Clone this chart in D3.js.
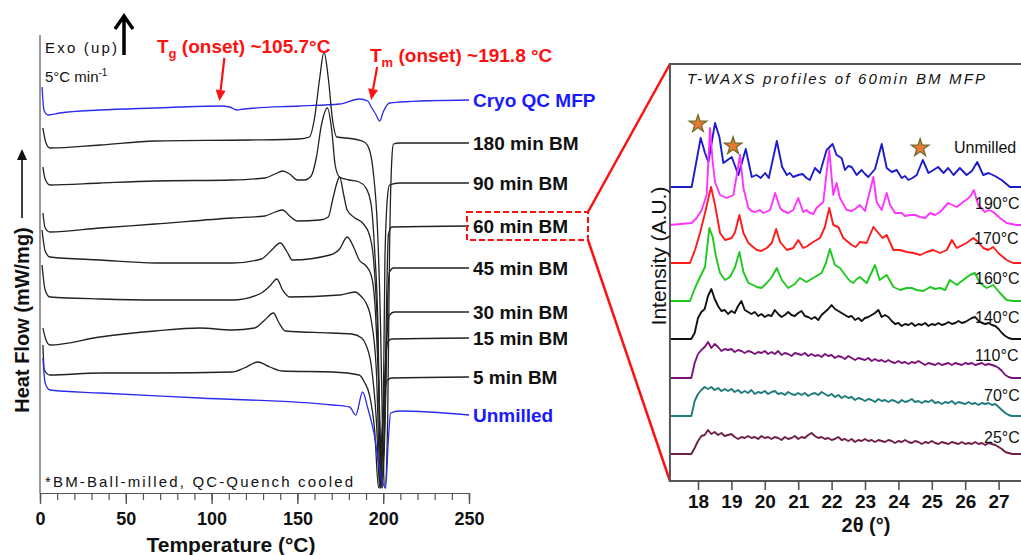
<!DOCTYPE html>
<html><head><meta charset="utf-8">
<script src="https://cdn.jsdelivr.net/npm/d3@7"></script>
<style>
body{margin:0;background:#fff}
svg{display:block;font-family:"Liberation Sans",Arial,sans-serif}
</style>
</head><body>
<svg id="c" width="1021" height="555"></svg>
<script>
// ---------------- DSC data (Temperature °C, heat flow, offset a.u.) ----------------
const dscCryo = [[1.2,40.6],[2.3,38.3],[4.7,37.8],[11.6,38.0],[35,38.3],[67,38.5],[105,38.7],[110.6,38.6],[114.7,38.3],[119,38.4],[151,38.7],[174.6,38.9],[186,39.4],[191,39.2],[193,38.6],[195.6,37.9],[198,37.2],[200,38.1],[203.7,39.0],[209.5,39.1],[250,39.3]];
const dsc180 = [[1.7,36.5],[3.5,35.0],[5.8,34.5],[35,34.8],[67,35.2],[122,35.3],[151,35.4],[157,35.6],[160,37.5],[163,41.5],[165.5,44.1],[168,41.5],[170.5,37.3],[173,35.6],[183,35.4],[189,35.1],[192,34.3],[194.4,31.8],[196.7,26.3],[198.5,16.3],[199.6,6.3],[201,0.5],[202.6,7.3],[203.7,24.3],[205,33.3],[206,34.9],[209.5,35.0],[250,35.0]];
const dsc90 = [[1.7,32.6],[3,31.4],[5.8,30.8],[35,31.0],[67,31.2],[112,31.3],[131,31.5],[137,31.9],[141.4,32.2],[145.5,31.9],[150,31.3],[154,31.3],[158,31.7],[161,33.5],[164,36.8],[167.5,38.5],[170,36.3],[172,32.8],[174.5,31.6],[180,31.3],[186,31.1],[190,30.5],[193,28.8],[195,24.3],[197,16.3],[198.5,0.5],[200,7.3],[201,23.3],[202.6,29.8],[203.7,30.8],[209.5,31.0],[250,31.0]];
const dsc60 = [[1.7,28.0],[3,26.5],[5.8,26.1],[35,26.5],[67,26.9],[112,27.5],[131,27.7],[137,28.1],[141.4,28.3],[145.5,27.7],[150,27.2],[163,27.3],[168,27.6],[170.5,29.3],[173,31.0],[174.6,31.6],[177,29.8],[179,28.3],[183.5,27.5],[188,27.0],[192,25.8],[194.4,23.3],[196.7,16.3],[199,0.5],[201,9.3],[202,19.3],[203,25.8],[205,26.6],[250,26.7]];
const dsc45 = [[1.2,26.3],[3,24.2],[5.8,23.6],[35,23.3],[67,23.0],[112,23.0],[129,23.4],[135,24.3],[140,25.0],[144,24.1],[147,23.3],[169,23.8],[174.6,24.4],[179,25.6],[183,24.5],[186,23.3],[190,22.7],[193,21.8],[195,19.3],[197.3,11.3],[199.6,0.5],[201.4,9.3],[202.6,19.3],[203.7,22.1],[206,22.5],[250,22.5]];
const dsc30 = [[1.2,22.8],[3,20.3],[5.8,19.6],[35,19.4],[67,19.3],[112,19.3],[128,19.9],[134,20.7],[138,21.4],[141.4,20.3],[145.5,19.6],[174.6,19.8],[183.5,20.1],[187.5,19.6],[190,19.0],[193,17.3],[196,12.3],[198.5,0.5],[201,7.3],[202,15.3],[203.7,17.8],[206.5,18.1],[250,18.1]];
const dsc15 = [[1.7,16.5],[3.5,15.3],[5.8,14.8],[35,15.6],[67,16.2],[93,16.5],[112,16.3],[125,16.5],[131,17.3],[136,18.0],[139,17.1],[143,16.2],[169,16.0],[181.6,15.9],[187.5,15.5],[190,14.8],[193,12.8],[196,7.3],[198,0.5],[199.6,6.3],[201.4,13.3],[202.6,15.1],[205,15.4],[250,15.5]];
const dsc5 = [[1.7,14.8],[2.5,12.3],[5.8,11.8],[35,12.0],[67,12.0],[112,12.1],[119,12.5],[127,13.1],[134,12.6],[141.4,12.2],[170.5,12.1],[186,11.8],[189,11.1],[192,9.8],[195,6.3],[197.3,0.5],[199,5.3],[201,10.3],[202.6,11.3],[205,11.5],[250,11.6]];
const dscUnmilled = [[1.7,13.5],[3,11.0],[5.8,10.3],[35,10.0],[93,9.5],[170.5,8.8],[180.4,8.6],[184,7.8],[188,10.1],[191,8.5],[194.6,6.0],[198,2.3],[201.4,0.5],[203,5.3],[204.3,8.0],[209.5,8.2],[250,7.8]];
const dscLabels = ["Cryo QC MFP","180 min BM","90 min BM","60 min BM","45 min BM","30 min BM","15 min BM","5 min BM","Unmilled"];
const dscTicksMajor = [0,50,100,150,200,250];
const tgOnset = 105.7, tmOnset = 191.8;

// ---------------- T-WAXS data (2θ °, intensity a.u. above own baseline) ----------------
const waxsLabels = ["Unmilled","190°C","170°C","160°C","140°C","110°C","70°C","25°C"];
const waxsOffsets = [29.4,25.6,21.8,18.0,14.2,10.3,6.5,2.7];
const waxsUnmilled = [[17.15,0],[17.81,0],[17.96,2.7],[18.08,4.9],[18.21,3.4],[18.31,2.5],[18.51,6.4],[18.64,5.0],[18.76,2.4],[19.01,3.0],[19.21,1.2],[19.43,3.8],[19.61,1.0],[19.75,1.2],[19.88,0.9],[20.01,1.4],[20.12,0.9],[20.36,4.6],[20.52,2.0],[20.66,1.2],[20.75,1.4],[20.85,1.0],[21.0,1.2],[21.13,1.3],[21.25,0.9],[21.35,0.7],[21.50,1.9],[21.65,1.4],[21.85,3.7],[22.03,4.3],[22.15,3.2],[22.3,2.9],[22.40,1.7],[22.50,2.1],[22.60,2.0],[22.75,1.2],[22.9,1.7],[23.0,1.3],[23.10,1.0],[23.3,1.8],[23.50,4.3],[23.65,1.9],[23.8,1.5],[23.95,1.7],[24.10,0.9],[24.2,1.1],[24.3,0.7],[24.42,0.9],[24.55,1.2],[24.73,2.7],[24.90,1.4],[25.05,1.7],[25.19,2.0],[25.35,1.4],[25.49,1.9],[25.65,1.2],[25.84,1.9],[26.04,1.2],[26.2,1.6],[26.36,2.5],[26.54,1.2],[26.7,1.4],[26.89,1.1],[27.09,0.7],[27.34,0],[28.3,0]];
const waxs190 = [[17.15,0],[17.81,0.2],[17.96,0.7],[18.11,1.5],[18.26,3.0],[18.36,9.7],[18.44,6.3],[18.51,4.3],[18.66,3.0],[18.86,2.7],[19.06,3.0],[19.26,7.0],[19.36,3.7],[19.51,1.7],[19.6,1.4],[19.71,1.3],[19.85,1.5],[19.96,1.2],[20.16,1.5],[20.31,3.2],[20.46,1.7],[20.55,1.4],[20.70,1.2],[20.85,1.5],[21.00,2.7],[21.15,1.3],[21.25,1.5],[21.35,1.2],[21.45,1.1],[21.55,1.7],[21.75,2.3],[21.93,7.5],[22.05,3.0],[22.15,4.2],[22.25,2.7],[22.45,1.5],[22.6,1.4],[22.7,1.6],[22.85,2.0],[23.0,1.4],[23.25,4.8],[23.35,2.3],[23.50,1.5],[23.65,3.2],[23.75,2.0],[23.90,1.2],[24.1,1.2],[24.2,0.9],[24.35,1.0],[24.5,1.0],[24.65,0.8],[24.8,0.7],[24.95,1.2],[25.1,1.0],[25.25,1.3],[25.49,2.2],[25.75,1.8],[25.94,2.3],[26.14,2.8],[26.26,3.5],[26.39,2.0],[26.59,1.3],[26.7,1.5],[26.84,1.3],[27.04,0.7],[27.24,0.2],[27.54,0],[28.3,0]];
const waxs170 = [[17.15,0],[17.76,0],[17.91,1.3],[18.06,3.0],[18.21,5.0],[18.39,7.6],[18.51,5.8],[18.66,3.0],[18.81,2.3],[19.01,2.5],[19.11,3.1],[19.24,4.8],[19.36,3.0],[19.51,2.0],[19.65,1.6],[19.76,1.3],[19.9,1.2],[20.06,1.5],[20.21,2.0],[20.34,3.4],[20.46,2.1],[20.66,1.3],[20.85,1.5],[21.00,2.3],[21.15,1.5],[21.28,1.7],[21.40,2.0],[21.65,2.5],[21.80,3.6],[21.93,5.5],[22.05,3.8],[22.20,3.6],[22.35,2.5],[22.60,1.8],[22.72,1.6],[22.85,2.1],[23.05,2.0],[23.25,3.6],[23.40,3.0],[23.53,2.5],[23.65,2.8],[23.85,1.3],[24.05,1.3],[24.25,1.1],[24.45,1.0],[24.65,0.8],[24.85,1.1],[25.04,1.3],[25.25,1.0],[25.45,1.3],[25.60,2.3],[25.75,1.5],[26.04,2.0],[26.24,2.5],[26.39,2.1],[26.54,1.5],[26.69,1.3],[26.84,1.6],[26.99,1.0],[27.24,0.3],[27.44,0],[28.3,0]];
const waxs160 = [[17.15,0],[17.76,0],[17.91,1.3],[18.06,2.4],[18.21,3.4],[18.34,7.3],[18.44,6.4],[18.54,4.4],[18.66,2.8],[18.81,2.1],[18.96,2.4],[19.11,3.4],[19.24,4.9],[19.36,2.9],[19.51,1.8],[19.65,1.6],[19.76,1.4],[19.9,1.3],[20.06,1.8],[20.21,2.4],[20.36,3.3],[20.51,2.1],[20.70,1.3],[20.90,1.7],[21.05,2.3],[21.25,1.9],[21.45,2.3],[21.70,2.8],[21.83,3.8],[21.95,5.2],[22.10,3.6],[22.25,3.3],[22.45,2.4],[22.55,2.0],[22.65,1.8],[22.75,2.2],[22.85,2.4],[23.05,1.8],[23.30,3.6],[23.44,2.1],[23.65,2.6],[23.85,1.4],[24.05,1.1],[24.25,1.3],[24.4,1.3],[24.55,1.1],[24.75,1.0],[24.95,1.4],[25.1,1.2],[25.25,1.3],[25.4,1.1],[25.54,2.1],[25.75,1.6],[25.94,2.1],[26.14,2.6],[26.29,2.8],[26.44,1.8],[26.64,1.3],[26.84,1.6],[27.04,0.8],[27.24,0.1],[27.44,0],[28.3,0]];
// noisy / amorphous profiles sampled every 0.1° from 17.8° to 27.4°
const waxsGridStart = 17.8, waxsGridStep = 0.1;
const waxs140 = [0.0,0.6,2.1,2.7,3.0,4.3,5.0,4.0,3.3,2.8,2.9,2.5,2.8,2.6,3.3,3.8,2.9,2.7,2.5,2.7,2.3,2.5,2.2,2.4,2.3,2.9,2.5,2.2,2.4,2.7,2.4,2.3,2.6,2.8,2.3,2.2,2.0,2.2,1.9,2.4,2.7,3.0,3.4,3.0,2.8,2.6,2.4,2.2,2.3,1.9,2.1,1.8,2.1,2.2,2.4,2.6,2.9,2.2,2.4,2.2,1.8,1.5,1.6,1.3,1.5,1.4,1.6,1.3,1.5,1.4,1.6,1.3,1.5,1.4,1.6,1.4,1.5,1.7,1.5,1.6,1.8,1.6,1.7,1.9,2.1,2.2,1.8,1.6,1.5,1.6,1.4,1.3,1.0,0.6,0.3,0.1,0.0];
const waxs110 = [0.0,1.5,2.4,2.8,3.1,3.6,3.0,3.4,3.1,2.7,2.9,2.8,2.9,2.6,2.8,2.7,2.5,2.7,2.6,2.4,2.6,2.5,2.7,2.4,2.6,2.4,2.7,2.3,2.5,2.4,2.2,2.5,2.4,2.3,2.5,2.2,2.4,2.2,2.3,2.1,2.4,2.2,2.3,2.0,2.2,2.1,1.9,2.2,2.0,1.8,2.0,1.9,1.8,2.0,1.7,1.9,1.7,1.8,1.6,1.8,1.6,1.5,1.7,1.5,1.6,1.4,1.6,1.5,1.7,1.5,1.3,1.5,1.4,1.3,1.5,1.3,1.4,1.5,1.3,1.5,1.4,1.3,1.5,1.4,1.5,1.3,1.4,1.5,1.3,1.4,1.3,1.2,1.0,0.7,0.3,0.1,0.0];
const waxs70 = [0.0,1.5,2.2,2.6,2.9,2.7,2.9,2.6,2.8,2.5,2.7,2.5,2.7,2.4,2.6,2.3,2.5,2.3,2.6,2.2,2.4,2.3,2.5,2.2,2.4,2.5,2.2,2.3,2.1,2.4,2.2,2.1,2.3,2.1,2.3,2.0,2.2,2.3,2.1,2.4,2.2,2.0,2.2,1.9,2.1,1.8,2.0,1.8,1.9,1.6,1.8,1.7,1.5,1.7,1.6,1.4,1.7,1.5,1.6,1.4,1.6,1.5,1.3,1.6,1.4,1.5,1.7,1.4,1.5,1.3,1.5,1.4,1.6,1.3,1.4,1.2,1.4,1.3,1.5,1.2,1.4,1.3,1.2,1.4,1.2,1.3,1.1,1.3,1.2,1.3,1.1,1.2,0.9,0.6,0.3,0.1,0.0];
const waxs25 = [0.0,0.6,1.3,1.8,1.9,2.4,2.0,2.2,1.9,2.1,1.8,1.9,2.0,1.7,1.5,1.7,1.6,1.8,1.6,1.7,1.5,1.8,1.6,1.7,1.5,1.7,1.6,1.4,1.7,1.5,1.6,1.8,1.5,1.7,1.6,1.9,2.1,1.8,1.6,1.7,1.5,1.6,1.4,1.5,1.7,1.4,1.5,1.3,1.5,1.2,1.4,1.3,1.5,1.3,1.4,1.2,1.4,1.3,1.2,1.4,1.3,1.1,1.3,1.2,1.4,1.2,1.1,1.3,1.2,1.0,1.2,1.1,1.3,1.1,1.0,1.2,1.1,1.0,1.2,1.1,1.0,1.2,1.0,1.1,1.0,1.2,1.0,1.1,0.9,1.1,1.0,0.9,0.7,0.5,0.2,0.1,0.0];
const waxsTicks = [18,19,20,21,22,23,24,25,26,27];
const waxsStars = [[18.0,6.3],[19.05,4.1],[24.65,3.9]]; // 2θ, intensity above Unmilled baseline

// ---------------- drawing ----------------
const svg = d3.select("#c");
const FONT = '"Liberation Sans", Arial, sans-serif';
const BLUE_LINE = "#2b2bf0", BLUE_TXT = "#1a1aff", RED = "#ff1010";

// ===== left: DSC =====
const xL = d3.scaleLinear().domain([0,250]).range([40,469]);
const yL = d3.scaleLinear().domain([0,45.8]).range([493,35]);
const dscSeries = [dscCryo,dsc180,dsc90,dsc60,dsc45,dsc30,dsc15,dsc5,dscUnmilled];
const dscColors = [BLUE_LINE,"#222","#222","#222","#222","#222","#222","#222",BLUE_LINE];
const lineL = d3.line().x(d=>xL(d[0])).y(d=>yL(d[1])).curve(d3.curveMonotoneX);

svg.append("line").attr("x1",xL(0)).attr("x2",xL(0)).attr("y1",35).attr("y2",yL(0))
  .attr("stroke","#555").attr("stroke-width",1.2);
const gxMinor = svg.append("g").attr("transform",`translate(0,${yL(0)})`)
  .call(d3.axisBottom(xL).tickValues(d3.range(0,251,10)).tickSize(7).tickFormat(""));
gxMinor.select(".domain").attr("stroke","#555").attr("stroke-width",1.2);
gxMinor.selectAll("line").attr("stroke","#555").attr("stroke-width",1.2);
const gxL = svg.append("g").attr("transform",`translate(0,${yL(0)})`)
  .call(d3.axisBottom(xL).tickValues(dscTicksMajor).tickSize(11).tickPadding(8).tickFormat(d3.format("d")));
gxL.select(".domain").remove();
gxL.selectAll("line").attr("stroke","#555").attr("stroke-width",1.4);
gxL.attr("font-family",FONT).attr("font-size",18).selectAll("text").attr("font-weight","bold").attr("fill","#111");

svg.append("g").selectAll("path").data(dscSeries).join("path")
  .attr("d",lineL).attr("fill","none")
  .attr("stroke",(d,i)=>dscColors[i]).attr("stroke-width",1.3);

const labY = dscSeries.map(s=>yL(s[s.length-1][1]));
svg.append("g").selectAll("text").data(dscLabels).join("text")
  .attr("x",473).attr("y",(d,i)=>labY[i]).attr("dy","0.36em")
  .attr("font-size",19).attr("font-weight","bold")
  .attr("fill",(d,i)=> (i===0||i===8)? BLUE_TXT : "#111")
  .text(d=>d);

const by = labY[3];
svg.append("rect").attr("x",467).attr("y",by-14).attr("width",121).attr("height",28)
  .attr("fill","none").attr("stroke",RED).attr("stroke-width",2).attr("stroke-dasharray","6,3");

svg.append("text").attr("x",45).attr("y",53).attr("font-size",15).attr("fill","#111")
  .attr("textLength",72).attr("lengthAdjust","spacing").text("Exo (up)");
svg.append("path").attr("d","M124,55 L124,16 M115,29 L124,16 L133,29")
  .attr("fill","none").attr("stroke","#000").attr("stroke-width",3.5);
const rate = svg.append("text").attr("x",45).attr("y",82).attr("font-size",15).attr("fill","#111");
rate.append("tspan").text("5°C min");
rate.append("tspan").attr("font-size",10).attr("dy",-6).text("-1");

function annot(x,y,main,sub,rest){
  const t = svg.append("text").attr("x",x).attr("y",y).attr("fill",RED)
    .attr("font-weight","bold").attr("font-size",19);
  t.append("tspan").text(main);
  t.append("tspan").attr("font-size",13).attr("dy",5).text(sub);
  t.append("tspan").attr("dy",-5).text(rest);
}
annot(157,53,"T","g"," (onset) ~105.7°C");
annot(370,62,"T","m"," (onset) ~191.8 °C");
function arrow(x1,y1,x2,y2){
  const a = Math.atan2(y2-y1,x2-x1), L=11, w=5;
  const bx = x2 - L*Math.cos(a), by2 = y2 - L*Math.sin(a);
  svg.append("line").attr("x1",x1).attr("y1",y1).attr("x2",bx).attr("y2",by2)
    .attr("stroke",RED).attr("stroke-width",2.2);
  svg.append("path").attr("d",`M${x2},${y2} L${bx+w*Math.sin(a)},${by2-w*Math.cos(a)} L${bx-w*Math.sin(a)},${by2+w*Math.cos(a)} Z`)
    .attr("fill",RED);
}
arrow(xL(tgOnset)+3,58,xL(tgOnset)-2,101);
arrow(xL(tmOnset)+8,67,xL(tmOnset)+2,100);

svg.append("text").attr("x",231).attr("y",552).attr("text-anchor","middle")
  .attr("font-size",21).attr("font-weight","bold").attr("fill","#111").text("Temperature (°C)");
svg.append("text").attr("transform","translate(22,320) rotate(-90)").attr("text-anchor","middle")
  .attr("dy","0.36em").attr("font-size",20).attr("font-weight","bold").attr("fill","#111").text("Heat Flow (mW/mg)");
svg.append("line").attr("x1",22).attr("x2",22).attr("y1",218).attr("y2",158).attr("stroke","#111").attr("stroke-width",1.6);
svg.append("path").attr("d","M22,149 L17,160 L27,160 Z").attr("fill","#111");
svg.append("text").attr("x",45).attr("y",487).attr("font-size",15).attr("fill","#111")
  .attr("textLength",308).attr("lengthAdjust","spacing").text("*BM-Ball-milled, QC-Quench cooled");

// ===== right: T-WAXS =====
const xR = d3.scaleLinear().domain([18,27]).range([698,998.6]);
const yR = d3.scaleLinear().domain([0,41.7]).range([481,64]);
const grid = arr => arr.map((v,i)=>[waxsGridStart+i*waxsGridStep, v]);
const pad = arr => [[17.15,0]].concat(arr).concat([[28.3,0]]);
const waxsSeries = [waxsUnmilled,waxs190,waxs170,waxs160,pad(grid(waxs140)),pad(grid(waxs110)),pad(grid(waxs70)),pad(grid(waxs25))];
const waxsColors = ["#1c1ccc","#ff33ff","#ff1a1a","#1fc81f","#111111","#7a137a","#1f7b7b","#6e1f45"];

svg.append("line").attr("x1",588).attr("y1",by-14).attr("x2",xR(17.16)).attr("y2",yR(41.7))
  .attr("stroke",RED).attr("stroke-width",2.5);
svg.append("line").attr("x1",588).attr("y1",by+14).attr("x2",xR(17.16)).attr("y2",yR(0))
  .attr("stroke",RED).attr("stroke-width",2.5);

svg.append("g").selectAll("path").data(waxsSeries).join("path")
  .attr("fill","none").attr("stroke",(d,i)=>waxsColors[i]).attr("stroke-width",1.9)
  .attr("stroke-linejoin","round")
  .attr("d",(s,i)=> d3.line().x(d=>xR(d[0])).y(d=>yR(d[1]+waxsOffsets[i]))(s));

svg.append("path").attr("d",`M1030,${yR(41.7)} L${xR(17.16)},${yR(41.7)} L${xR(17.16)},${yR(0)} L1030,${yR(0)}`)
  .attr("fill","none").attr("stroke","#555").attr("stroke-width",2);
const gxR = svg.append("g").attr("transform",`translate(0,${yR(0)})`)
  .call(d3.axisBottom(xR).tickValues(waxsTicks).tickSize(9).tickPadding(5).tickFormat(d3.format("d")));
gxR.select(".domain").remove();
gxR.selectAll("line").attr("stroke","#555").attr("stroke-width",1.6);
gxR.attr("font-family",FONT).attr("font-size",19).selectAll("text").attr("font-weight","bold").attr("fill","#111");

const waxsLabX = [954,975,974,975,975,975,984,984];
const waxsLabDy = [4.0,2.2,2.5,2.3,2.2,2.3,2.1,1.7];
svg.append("g").selectAll("text").data(waxsLabels).join("text")
  .attr("x",(d,i)=>waxsLabX[i]).attr("y",(d,i)=>yR(waxsOffsets[i]+waxsLabDy[i])).attr("dy","0.36em")
  .attr("font-size",16).attr("fill","#111").text(d=>d);

svg.append("g").selectAll("path").data(waxsStars).join("path")
  .attr("d",d3.symbol(d3.symbolStar).size(95))
  .attr("transform",d=>`translate(${xR(d[0])},${yR(d[1]+waxsOffsets[0])})`)
  .attr("fill","#ec7a32").attr("stroke","#6f6a2a").attr("stroke-width",1.3);

svg.append("text").attr("x",687).attr("y",84).attr("font-size",15).attr("font-style","italic").attr("fill","#111")
  .attr("textLength",298).attr("lengthAdjust","spacing").text("T-WAXS profiles of 60min BM MFP");
svg.append("text").attr("transform","translate(658,256) rotate(-90)").attr("text-anchor","middle")
  .attr("dy","0.36em").attr("font-size",21).attr("fill","#111").text("Intensity (A.U.)");
svg.append("text").attr("x",866).attr("y",532).attr("text-anchor","middle")
  .attr("font-size",20).attr("font-weight","bold").attr("fill","#111").text("2θ (°)");
</script>
</body></html>
